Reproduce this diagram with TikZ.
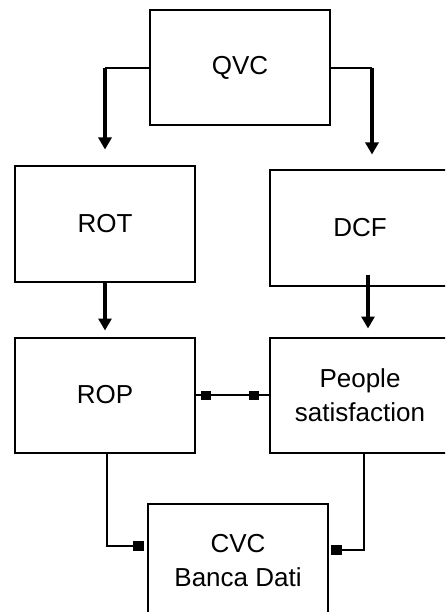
\documentclass[tikz,border=0pt]{standalone}
\usepackage{fontspec}
\setmainfont{Liberation Sans}
\usetikzlibrary{arrows.meta, positioning}

\begin{document}
\begin{tikzpicture}[
    x=1pt, y=-1pt,
    box/.style={rectangle, draw, line width=2pt, minimum width=180pt, minimum height=115pt, align=center, font=\fontsize{26}{34}\selectfont},
    wire/.style={draw, line width=2pt},
    fatarrow/.style={line width=4pt, -{Triangle[width=13pt, length=12pt]}},
    sqend/.style={line width=2pt, -{Square[length=11pt, width=10pt]}},
    sqboth/.style={line width=2pt, {Square[length=10pt, width=9pt]}-{Square[length=10pt, width=9pt]}}
]

\useasboundingbox (0,0) rectangle (445,612);
\clip (0,0) rectangle (445,612);

% Top
\node[box] (qvc) at (240,68) {QVC};

% Middle rows
\node[box] (rot) at (105,224) {ROT};
\node[box] (dcf) at (360,228) {DCF};
\node[box, below=54pt of rot] (rop) {ROP};
\node[box, below=50pt of dcf] (ppl) {People\\satisfaction};

% Bottom
\node[box] (cvc) at (238,561) {CVC\\Banca Dati};

\coordinate (qvcL) at (rot.north |- qvc.west);
\coordinate[xshift=12pt] (qvcR) at (dcf.north |- qvc.east);

% Arrows down
\draw[wire] (qvc.west) -- (qvcL);
\draw[fatarrow] (qvcL) -- ([yshift=16pt]rot.north);
\draw[wire] (qvc.east) -- (qvcR);
\draw[fatarrow] (qvcR) -- ([xshift=12pt, yshift=15pt]dcf.north);

\draw[fatarrow] (rot.south) -- ([yshift=6pt]rop.north);
\draw[fatarrow] ([xshift=8pt, yshift=12pt]dcf.south) -- ([xshift=8pt, yshift=8pt]ppl.north);

% ROP <-> People
\draw[wire] (rop.east) -- (ppl.west);
\draw[sqboth, shorten <=5pt, shorten >=10pt] (rop.east) -- (ppl.west);

% into CVC
\draw[sqend, shorten >=3pt] ([xshift=2pt]rop.south) |- ([yshift=15pt]cvc.west);
\draw[sqend, shorten >=2pt] ([xshift=4pt]ppl.south) |- ([yshift=11pt]cvc.east);

\end{tikzpicture}
\end{document}
